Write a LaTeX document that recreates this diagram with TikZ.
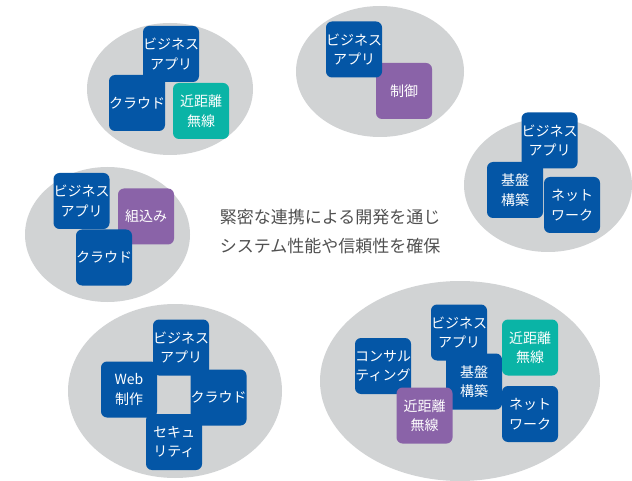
\documentclass[tikz,border=0pt]{standalone}
\usepackage{fontspec}
\setmainfont{Noto Sans CJK JP}
\definecolor{bblue}{RGB}{4,86,166}
\definecolor{bteal}{RGB}{10,180,166}
\definecolor{bpurple}{RGB}{138,99,168}
\definecolor{egray}{RGB}{209,211,212}
\definecolor{tgray}{RGB}{80,80,80}
\tikzset{
  ell/.style={fill=egray},
  box/.style={rounded corners=6pt, minimum width=56pt, minimum height=56pt, inner sep=0pt,
    text=white, align=center, font=\fontsize{14}{19.5}\selectfont},
  bluebox/.style={box, fill=bblue},
  tealbox/.style={box, fill=bteal},
  purplebox/.style={box, fill=bpurple},
  caption/.style={text=tgray, align=center, font=\fontsize{17}{29}\selectfont}
}
\begin{document}
\begin{tikzpicture}[x=1pt,y=-1pt]
\useasboundingbox (0,0) rectangle (632,481);
% ellipses
\fill[ell] (170,89) ellipse [x radius=83pt, y radius=66pt];
\fill[ell] (380,71.5) ellipse [x radius=84pt, y radius=65.5pt];
\fill[ell] (548,185) ellipse [x radius=84pt, y radius=67pt];
\fill[ell] (107.5,234.5) ellipse [x radius=82.5pt, y radius=67.5pt];
\fill[ell] (175,391) ellipse [x radius=107pt, y radius=87pt];
\fill[ell] (460,381) ellipse [x radius=140pt, y radius=100pt];
% group 1
\node[bluebox] (b1b) at (137,103) {クラウド};
\node[bluebox] (b1a) at (171,54) {ビジネス\\アプリ};
\node[tealbox] (b1c) at (201,111) {近距離\\無線};
% group 2
\node[purplebox] (b2b) at (404,91) {制御};
\node[bluebox] (b2a) at (354,49.5) {ビジネス\\アプリ};
% group 3
\node[bluebox] (b3a) at (549.5,140.5) {ビジネス\\アプリ};
\node[bluebox] (b3b) at (515,190) {基盤\\構築};
\node[bluebox] (b3c) at (572,205) {ネット\\ワーク};
% group 4
\node[bluebox] (b4a) at (81.5,201) {ビジネス\\アプリ};
\node[purplebox] (b4b) at (146,216.5) {組込み};
\node[bluebox] (b4c) at (104,257.5) {クラウド};
% group 5
\node[bluebox] (b5a) at (181,347.5) {ビジネス\\アプリ};
\node[bluebox] (b5b) at (129,389.5) {Web\\制作};
\node[bluebox] (b5c) at (218.5,397.5) {クラウド};
\node[bluebox] (b5d) at (174,442) {セキュ\\リティ};
% group 6
\node[bluebox] (b6a) at (459,332.5) {ビジネス\\アプリ};
\node[bluebox] (b6b) at (474,381.5) {基盤\\構築};
\node[tealbox] (b6c) at (530,347.5) {近距離\\無線};
\node[bluebox] (b6d) at (383,366) {コンサル\\ティング};
\node[purplebox] (b6e) at (424.5,415.5) {近距離\\無線};
\node[bluebox] (b6f) at (530,414) {ネット\\ワーク};
% caption
\node[caption] (cap) at (330,231.5) {緊密な連携による開発を通じ\\システム性能や信頼性を確保};
\end{tikzpicture}
\end{document}
